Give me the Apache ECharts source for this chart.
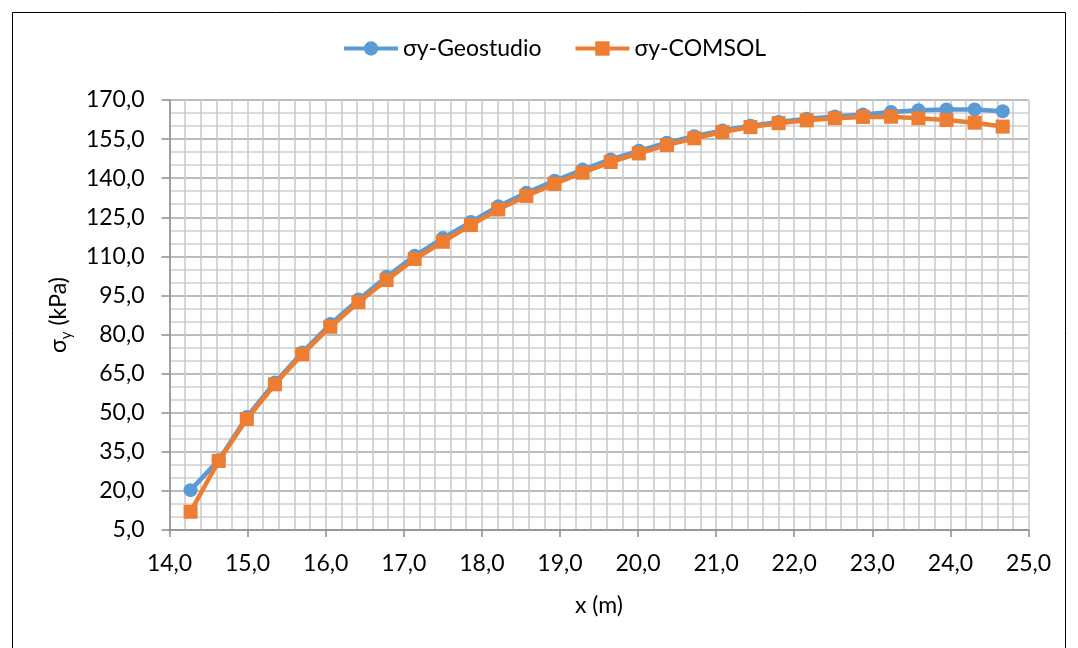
<!DOCTYPE html>
<html>
<head>
<meta charset="utf-8">
<script src="https://cdn.jsdelivr.net/npm/echarts@6/dist/echarts.min.js"></script>
<style>
  html, body { margin: 0; padding: 0; background: #ffffff; }
  #chart { width: 1078px; height: 648px; }
</style>
</head>
<body>
<div id="chart"></div>
<script>
// Horizontal position of each section (m)
const xPositions = [14.27, 14.63, 14.99, 15.35, 15.70, 16.06, 16.42, 16.78, 17.14, 17.50,
                    17.86, 18.21, 18.57, 18.93, 19.29, 19.65, 20.01, 20.37, 20.72, 21.08,
                    21.44, 21.80, 22.16, 22.52, 22.88, 23.24, 23.59, 23.95, 24.31, 24.67];

// Vertical stress σy (kPa)
const sigmaGeostudio = [20.3, 31.8, 48.4, 61.6, 73.1, 84.0, 93.4, 102.2, 110.2, 117.0,
                        123.2, 129.2, 134.4, 139.0, 143.3, 147.2, 150.5, 153.6, 156.1, 158.3,
                        160.1, 161.6, 162.8, 163.7, 164.4, 165.4, 166.1, 166.4, 166.4, 165.7];
const sigmaComsol = [12.0, 31.5, 47.6, 60.9, 72.4, 83.0, 92.4, 100.9, 109.0, 115.6,
                     122.0, 128.0, 133.2, 137.8, 142.1, 146.2, 149.5, 152.7, 155.3, 157.7,
                     159.6, 161.1, 162.2, 163.0, 163.5, 163.6, 163.0, 162.3, 161.3, 159.8];

const seriesNames = ['σy-Geostudio', 'σy-COMSOL'];
const FONT = 'Lato';
const decimalComma = v => v.toFixed(1).replace('.', ',');

const chart = echarts.init(document.getElementById('chart'), null, { renderer: 'canvas' });

chart.setOption({
  backgroundColor: '#ffffff',
  animation: false,
  textStyle: { fontFamily: FONT, color: '#000000' },
  graphic: [{
    type: 'rect',
    shape: { x: 12.5, y: 12.5, width: 1053, height: 700 },
    style: { fill: 'none', stroke: '#000000', lineWidth: 1 },
    silent: true
  }],
  legend: {
    left: 337,
    top: 32,
    itemWidth: 54,
    itemHeight: 18,
    itemGap: 32,
    lineStyle: { width: 4 },
    textStyle: { fontFamily: FONT, fontSize: 23, color: '#000000' },
    data: seriesNames
  },
  grid: { left: 169.5, right: 49.5, top: 100, bottom: 118, containLabel: false },
  xAxis: {
    type: 'value',
    min: 14, max: 25, interval: 1,
    name: 'x (m)',
    nameLocation: 'middle',
    nameGap: 64,
    nameTextStyle: { fontFamily: FONT, fontSize: 23, color: '#000000' },
    axisLine: { show: true, onZero: false, lineStyle: { color: '#8c8c8c', width: 1.5 } },
    axisTick: { show: true, length: 7, lineStyle: { color: '#8c8c8c', width: 1.5 } },
    axisLabel: { margin: 22, fontFamily: FONT, fontSize: 23, color: '#000000', formatter: decimalComma },
    splitLine: { show: true, lineStyle: { color: '#c9c9c9', width: 1.5 } },
    minorTick: { show: false, splitNumber: 5 },
    minorSplitLine: { show: true, lineStyle: { color: '#c9c9c9', width: 1.5 } }
  },
  yAxis: {
    type: 'value',
    min: 5, max: 170, interval: 15,
    name: '{t|σ}{s|y}{t| (kPa)}',
    nameLocation: 'middle',
    nameGap: 96,
    nameRotate: 90,
    nameTextStyle: {
      fontFamily: FONT, fontSize: 23, color: '#000000',
      rich: {
        t: { fontFamily: FONT, fontSize: 23, color: '#000000', lineHeight: 30, verticalAlign: 'middle' },
        s: { fontFamily: FONT, fontSize: 15, color: '#000000', lineHeight: 30, verticalAlign: 'bottom' }
      }
    },
    axisLine: { show: true, onZero: false, lineStyle: { color: '#8c8c8c', width: 1.5 } },
    axisTick: { show: true, length: 8, lineStyle: { color: '#8c8c8c', width: 1.5 } },
    axisLabel: { margin: 25, fontFamily: FONT, fontSize: 23, color: '#000000', formatter: decimalComma },
    splitLine: { show: true, lineStyle: { color: '#a6a6a6', width: 1.5 } },
    minorTick: { show: false, splitNumber: 3 },
    minorSplitLine: { show: true, lineStyle: { color: '#d0d0d0', width: 1.5 } }
  },
  series: [
    {
      name: seriesNames[0],
      type: 'line',
      data: xPositions.map((x, i) => [x, sigmaGeostudio[i]]),
      symbol: 'circle',
      symbolSize: 14,
      itemStyle: { color: '#5b9bd5' },
      lineStyle: { color: '#5b9bd5', width: 4.5 },
      z: 2
    },
    {
      name: seriesNames[1],
      type: 'line',
      data: xPositions.map((x, i) => [x, sigmaComsol[i]]),
      symbol: 'rect',
      symbolSize: 14,
      itemStyle: { color: '#ed7d31' },
      lineStyle: { color: '#ed7d31', width: 4.5 },
      z: 3
    }
  ]
});
</script>
</body>
</html>
